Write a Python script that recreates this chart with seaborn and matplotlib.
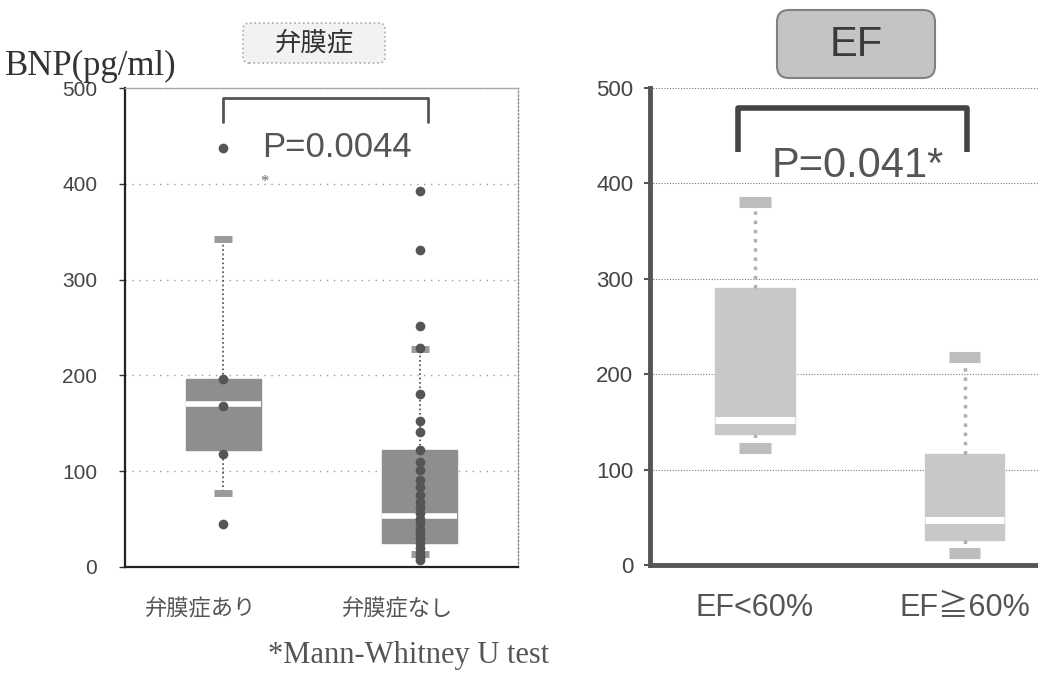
import numpy as np
import pandas as pd
import matplotlib
matplotlib.use("Agg")
import matplotlib.pyplot as plt
import matplotlib.transforms as mtransforms
from matplotlib.patches import FancyBboxPatch
import seaborn as sns

# Left panel: valvular disease (five-number summaries + individual points)
vd_groups = ["弁膜症あり", "弁膜症なし"]
vd_whislo = [77, 14]
vd_q1 = [122, 25]
vd_med = [170, 53]
vd_q3 = [196, 122]
vd_whishi = [342, 228]
vd_pts_yes = [437, 196, 168, 118, 45]
vd_pts_no = [392, 331, 252, 229, 181, 152, 141, 122, 110, 101, 91, 83, 75,
             68, 63, 56, 50, 46, 40, 35, 30, 25, 20, 15, 10, 7]

# Right panel: EF
ef_groups = ["EF<60%", "EF≧60%"]
ef_whislo = [123, 13]
ef_q1 = [137, 26]
ef_med = [152, 47]
ef_q3 = [290, 116]
ef_whishi = [381, 218]

yticks = [0, 100, 200, 300, 400, 500]


def summary_frame(groups, lo, q1, med, q3, hi):
    rows = []
    for i, g in enumerate(groups):
        for v in (lo[i], q1[i], med[i], q3[i], hi[i]):
            rows.append({"group": g, "value": v})
    return pd.DataFrame(rows)


sns.set_theme(style="white")
plt.rcParams["font.family"] = ["Liberation Sans", "Noto Sans CJK JP", "DejaVu Sans"]

fig = plt.figure(figsize=(10.38, 6.81), dpi=100)
W, H = 1038, 681
ax1 = fig.add_axes([125 / W, 114 / H, 393 / W, 479 / H])
ax2 = fig.add_axes([650 / W, 116 / H, 388 / W, 477 / H])

# ---- left panel ----
df_vd = summary_frame(vd_groups, vd_whislo, vd_q1, vd_med, vd_q3, vd_whishi)
sns.boxplot(data=df_vd, x="group", y="value", order=vd_groups, whis=np.inf,
            width=0.38, color="#8e8e8e", linewidth=1, ax=ax1, capwidths=0.09,
            boxprops=dict(facecolor="#8e8e8e", edgecolor="#8e8e8e"),
            medianprops=dict(color="white", linewidth=4),
            whiskerprops=dict(color="#444444", linestyle=":", linewidth=1.2),
            capprops=dict(color="#9a9a9a", linewidth=5, solid_capstyle="butt"))
pts = pd.DataFrame({"group": [vd_groups[0]] * len(vd_pts_yes) + [vd_groups[1]] * len(vd_pts_no),
                    "value": vd_pts_yes + vd_pts_no})
sns.stripplot(data=pts, x="group", y="value", order=vd_groups, jitter=False,
              color="#555555", size=7, ax=ax1, zorder=5)

ax1.set_xlim(-0.5, 1.5)
ax1.set_ylim(0, 500)
ax1.set_yticks(yticks)
ax1.set_xlabel("")
ax1.set_ylabel("")
ax1.grid(axis="y", color="#9a9a9a", linestyle=(0, (1, 4)), linewidth=1)
ax1.set_axisbelow(True)
for s in ["left", "bottom"]:
    ax1.spines[s].set_color("#222222")
    ax1.spines[s].set_linewidth(1.6)
ax1.spines["top"].set_color("#aaaaaa")
ax1.spines["top"].set_linewidth(1)
ax1.spines["right"].set_color("#888888")
ax1.spines["right"].set_linestyle(":")
ax1.spines["right"].set_linewidth(1)
ax1.tick_params(axis="y", left=True, length=4, width=1, color="#333333",
                labelsize=15, labelcolor="#444444", pad=16)
ax1.tick_params(axis="x", bottom=False, labelsize=16, labelcolor="#555555", pad=17)
shift = mtransforms.ScaledTranslation(-16 / 72, 0, fig.dpi_scale_trans)
for lab in ax1.get_xticklabels():
    lab.set_transform(lab.get_transform() + shift)

# bracket + p value
ax1.plot([0.0, 0.0, 1.04, 1.04], [465, 490, 490, 465], color="#555555",
         linewidth=2, solid_joinstyle="round", solid_capstyle="round")
ax1.text(0.58, 438, "P=0.0044", ha="center", va="center", fontsize=25, color="#555555")
ax1.text(0.21, 402, "*", ha="center", va="center", fontsize=12, color="#666666",
         family="Liberation Serif")

# ---- right panel ----
df_ef = summary_frame(ef_groups, ef_whislo, ef_q1, ef_med, ef_q3, ef_whishi)
sns.boxplot(data=df_ef, x="group", y="value", order=ef_groups, whis=np.inf,
            width=0.38, color="#c8c8c8", linewidth=1, ax=ax2, capwidths=0.15,
            boxprops=dict(facecolor="#c8c8c8", edgecolor="#c8c8c8"),
            medianprops=dict(color="white", linewidth=5),
            whiskerprops=dict(color="#b0b0b0", linestyle=":", linewidth=2.5),
            capprops=dict(color="#bdbdbd", linewidth=8, solid_capstyle="butt"))
ax2.set_xlim(-0.5, 1.35)
ax2.set_ylim(0, 500)
ax2.set_yticks(yticks)
ax2.set_xlabel("")
ax2.set_ylabel("")
ax2.grid(axis="y", color="#777777", linestyle=(0, (1, 1.5)), linewidth=0.8)
ax2.set_axisbelow(True)
for s in ["left", "bottom"]:
    ax2.spines[s].set_color("#555555")
    ax2.spines[s].set_linewidth(3.5)
ax2.spines["top"].set_visible(False)
ax2.spines["right"].set_visible(False)
ax2.tick_params(axis="y", left=True, length=4, width=1.5, color="#555555",
                labelsize=16, labelcolor="#444444", pad=8)
ax2.tick_params(axis="x", bottom=False, labelsize=22, labelcolor="#555555", pad=14)

ax2.plot([-0.08, -0.08, 1.01, 1.01], [433, 479, 479, 433], color="#444444",
         linewidth=4, solid_joinstyle="round", solid_capstyle="butt")
ax2.text(0.49, 418, "P=0.041*", ha="center", va="center", fontsize=30, color="#555555")

# ---- header boxes and texts ----
px = mtransforms.IdentityTransform()
box1 = FancyBboxPatch((243, H - 63), 142, 40, boxstyle="round,pad=0,rounding_size=6",
                      facecolor="#f2f2f2", edgecolor="#aaaaaa", linestyle=":",
                      linewidth=1.2, transform=px)
box2 = FancyBboxPatch((777, H - 78), 158, 68, boxstyle="round,pad=0,rounding_size=12",
                      facecolor="#c4c4c4", edgecolor="#808080", linewidth=1.5,
                      transform=px)
fig.patches.extend([box1, box2])
fig.text(314 / W, 1 - 43 / H, "弁膜症", ha="center", va="center", fontsize=19,
         color="#333333")
fig.text(856 / W, 1 - 45 / H, "EF", ha="center", va="center", fontsize=30,
         color="#3a3a3a")

fig.text(5 / W, 1 - 66 / H, "BNP(pg/ml)", ha="left", va="center", fontsize=25,
         family="Liberation Serif", color="#333333")
fig.text(268 / W, 1 - 655 / H, "*Mann-Whitney U test", ha="left", va="center",
         fontsize=22, family="Liberation Serif", color="#555555")

fig.savefig("out.png", dpi=100)
